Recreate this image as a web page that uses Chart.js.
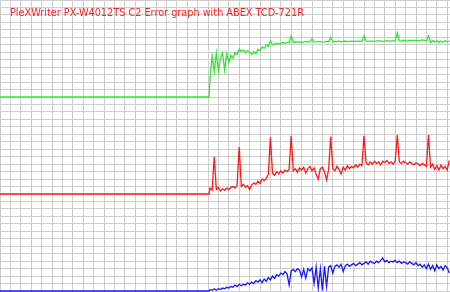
<!DOCTYPE html>
<html>
<head>
<meta charset="utf-8">
<script src="https://cdn.jsdelivr.net/npm/chart.js@4/dist/chart.umd.min.js"></script>
<style>
  html, body { margin: 0; padding: 0; background: #ffffff; }
  canvas { display: block; }
</style>
</head>
<body>
<canvas id="chart" width="450" height="292"></canvas>
<script>
// Graph title
const graphTitle = 'PleXWriter PX-W4012TS C2 Error graph with ABEX TCD-721R';

// Sample positions along the disc (in grid columns)
const positions = [
    0, 20.1,
    20.2, 20.4, 20.6, 20.8, 21, 21.2, 21.4, 21.6, 21.8, 22,
    22.2, 22.4, 22.6, 22.8, 23, 23.2, 23.4, 23.6, 23.8, 24,
    24.2, 24.4, 24.6, 24.8, 25, 25.2, 25.4, 25.6, 25.8, 26,
    26.2, 26.4, 26.6, 26.8, 27, 27.2, 27.4, 27.6, 27.8, 28,
    28.2, 28.4, 28.6, 28.8, 29, 29.2, 29.4, 29.6, 29.8, 30,
    30.2, 30.4, 30.6, 30.8, 31, 31.2, 31.4, 31.6, 31.8, 32,
    32.2, 32.4, 32.6, 32.8, 33, 33.2, 33.4, 33.6, 33.8, 34,
    34.2, 34.4, 34.6, 34.8, 35, 35.2, 35.4, 35.6, 35.8, 36,
    36.2, 36.4, 36.6, 36.8, 37, 37.2, 37.4, 37.6, 37.8, 38,
    38.2, 38.4, 38.6, 38.8, 39, 39.2, 39.4, 39.6, 39.8, 40,
    40.2, 40.4, 40.6, 40.8, 41, 41.2, 41.4, 41.6, 41.8, 42,
    42.2, 42.4, 42.6, 42.8, 43, 43.2
];

// Top trace (green)
const greenValues = [
    0, 0,
    2.6, 5.5, 3.4, 5.9, 3.5, 5.2, 5.9, 3.6, 5.8, 4.6,
    5.6, 5.2, 6.0, 5.7, 6.4, 6.1, 6.3, 5.9, 6.2, 6.0,
    5.7, 6.1, 5.8, 6.4, 6.2, 6.7, 6.5, 7.0, 6.8, 7.5,
    7.0, 7.1, 7.2, 7.1, 7.2, 7.3, 7.2, 7.3, 7.3, 8.2,
    7.3, 7.4, 7.35, 7.4, 7.3, 7.4, 7.45, 7.35, 7.4, 7.8,
    7.4, 7.35, 7.45, 7.4, 7.4, 7.35, 7.45, 7.4, 8.0, 7.4,
    7.45, 7.4, 7.5, 7.4, 7.45, 7.5, 7.4, 7.45, 7.5, 7.45,
    7.5, 7.45, 7.5, 7.45, 8.2, 7.5, 7.45, 7.5, 7.5, 7.45,
    7.5, 7.55, 7.5, 7.45, 7.5, 7.55, 7.5, 7.5, 7.55, 7.5,
    8.6, 7.55, 7.5, 7.6, 7.55, 7.5, 7.6, 7.55, 7.6, 7.6,
    7.55, 7.6, 7.65, 7.6, 7.55, 8.2, 7.3, 7.55, 7.35, 7.6,
    7.3, 7.5, 7.35, 7.55, 7.4, 7.5
];

// Middle trace (red)
const redValues = [
    0, 0,
    0.8, 0.5, 5.0, 0.6, 0.9, 0.4, 0.7, 0.5, 0.8, 0.6,
    0.9, 1.0, 0.8, 1.2, 6.3, 1.0, 1.3, 0.9, 1.1, 0.6,
    1.2, 1.5, 1.3, 1.7, 1.4, 2.0, 1.8, 2.1, 2.6, 7.6,
    2.8, 2.5, 3.0, 2.7, 3.1, 2.8, 3.2, 3.0, 3.3, 7.8,
    3.1, 3.4, 2.9, 3.5, 3.2, 3.6, 2.8, 3.4, 3.7, 3.1,
    3.5, 2.6, 2.0, 3.4, 3.6, 3.0, 1.9, 3.3, 7.7, 3.4,
    3.1, 3.7, 3.3, 2.7, 3.6, 3.2, 3.8, 3.4, 3.7, 3.5,
    3.9, 3.6, 4.0, 3.8, 7.8, 4.2, 3.9, 4.3, 4.0, 4.4,
    4.1, 4.3, 3.9, 4.4, 4.2, 4.5, 4.1, 4.3, 4.0, 4.4,
    7.9, 4.3, 4.1, 4.4, 4.2, 4.0, 4.3, 4.1, 3.9, 4.2,
    4.0, 3.8, 4.1, 3.9, 3.7, 7.9, 3.6, 4.0, 3.3, 3.8,
    3.2, 3.9, 3.4, 3.7, 3.2, 4.5
];

// Bottom trace (blue)
const blueValues = [
    0, 0,
    0.2, 0.1, 0.3, 0.1, 0.3, 0.2, 0.4, 0.3, 0.5, 0.4,
    0.6, 0.5, 0.8, 0.6, 0.9, 0.7, 0.9, 0.8, 1.1, 0.9,
    1.2, 1.0, 1.4, 1.2, 1.5, 1.1, 1.6, 1.3, 1.8, 1.5,
    2.0, 1.7, 2.2, 2.0, 2.4, 2.2, 2.6, 2.3, 0.8, 2.7,
    2.9, 2.6, 3.0, 2.8, 1.9, 2.9, 1.7, 3.0, 2.7, 3.1,
    1.0, 3.2, 0.4, 3.0, 0.05, 3.3, 0.6, 3.2, 3.4, 2.4,
    3.3, 3.5, 3.2, 3.6, 2.6, 3.4, 3.6, 3.3, 3.5, 3.7,
    3.4, 3.6, 3.8, 3.5, 3.7, 3.9, 3.6, 4.0, 3.8, 3.7,
    4.0, 3.8, 4.1, 4.4, 3.9, 4.1, 3.8, 4.0, 3.9, 4.1,
    3.8, 4.0, 3.7, 3.9, 3.8, 3.6, 3.9, 3.7, 3.5, 3.8,
    3.4, 3.6, 3.2, 3.5, 3.0, 3.6, 2.9, 3.4, 2.7, 3.5,
    3.0, 3.3, 2.8, 3.4, 3.1, 2.4
];

const gridColor = '#cdcdcd';
const titleFont = '"DejaVu Sans Condensed", "DejaVu Sans", sans-serif';

// Draw the title over the grid, top left
const titlePlugin = {
    id: 'graphTitle',
    afterDraw(chart) {
        const ctx = chart.ctx;
        ctx.save();
        ctx.font = '100px ' + titleFont;
        const size = 100 * 294 / ctx.measureText(graphTitle).width;
        ctx.font = size.toFixed(2) + 'px ' + titleFont;
        ctx.fillStyle = '#ff2424';
        ctx.textBaseline = 'alphabetic';
        ctx.fillText(graphTitle, 10, 16);
        ctx.restore();
    }
};

// One band per trace, stacked on the left (last one defined sits on top)
function bandAxis() {
    return {
        type: 'linear',
        position: 'left',
        stack: 'bands',
        stackWeight: 1,
        min: 0,
        max: 13,
        ticks: { display: false, stepSize: 1, includeBounds: false },
        grid: { color: gridColor, lineWidth: 1, drawTicks: false },
        border: { display: false }
    };
}

const ctx = document.getElementById('chart').getContext('2d');
const chart = new Chart(ctx, {
    type: 'line',
    data: {
        labels: positions,
        datasets: [{
            label: 'green',
            data: greenValues,
            yAxisID: 'yGreen',
            borderColor: '#2ee82e',
            borderWidth: 1.3,
            clip: false
        }, {
            label: 'red',
            data: redValues,
            yAxisID: 'yRed',
            borderColor: '#ff1a1a',
            borderWidth: 1.3,
            clip: false
        }, {
            label: 'blue',
            data: blueValues,
            yAxisID: 'yBlue',
            borderColor: '#1a1aff',
            borderWidth: 1.3,
            clip: false
        }]
    },
    options: {
        responsive: false,
        animation: false,
        layout: { padding: { left: 0, right: 0, top: 0, bottom: 1 } },
        elements: {
            point: { radius: 0, hoverRadius: 0 },
            line: { tension: 0, fill: false }
        },
        plugins: {
            legend: { display: false },
            tooltip: { enabled: false },
            title: { display: false }
        },
        scales: {
            x: {
                type: 'linear',
                min: 0,
                max: 450 / 10.4,
                ticks: { display: false, stepSize: 1, includeBounds: false },
                grid: { color: gridColor, lineWidth: 1, drawTicks: false },
                border: { display: false }
            },
            yBlue: bandAxis(),
            yRed: bandAxis(),
            yGreen: bandAxis()
        }
    },
    plugins: [titlePlugin]
});
</script>
</body>
</html>
